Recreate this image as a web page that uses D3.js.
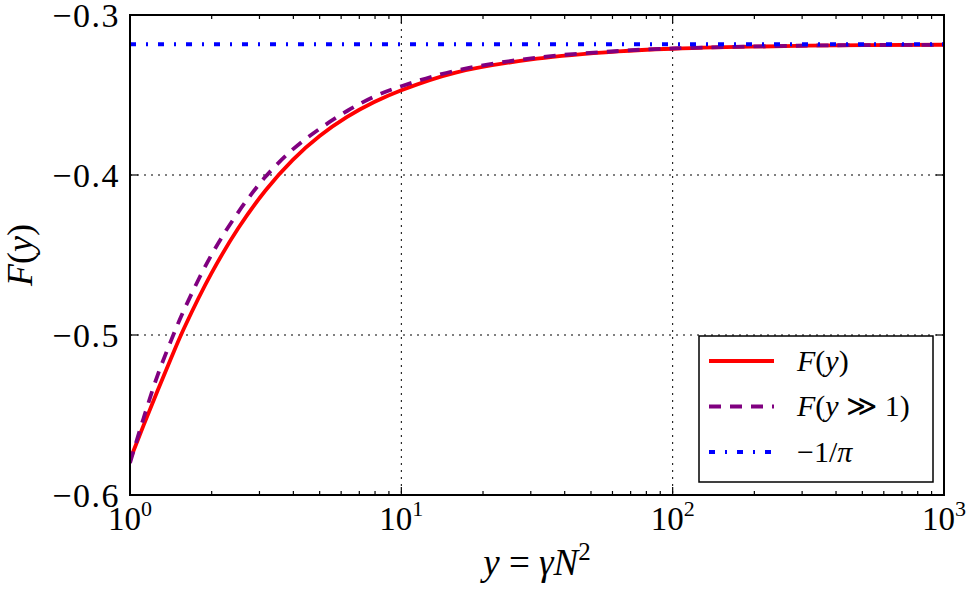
<!DOCTYPE html>
<html>
<head>
<meta charset="utf-8">
<script src="https://cdn.jsdelivr.net/npm/d3@7"></script>
<style>
  body { margin: 0; background: #fff; }
  svg { display: block; }
  text { font-family: 'Liberation Serif', 'DejaVu Serif', serif; fill: #000; }
</style>
</head>
<body>
<svg id="chart" width="967" height="590"></svg>
<script>
// x samples, y = gamma N^2
const ySamples = [1, 1.122, 1.259, 1.413, 1.585, 1.995, 2.512, 3.162, 3.981, 5.012, 6.31, 7.943, 10, 15.85, 31.62, 63.1, 100, 316.2, 1000];
// F(y)
const fExact = [-0.578, -0.5565, -0.5355, -0.515, -0.4955, -0.4615, -0.433, -0.4095, -0.3905, -0.3755, -0.3637, -0.3544, -0.347, -0.336, -0.3273, -0.3227, -0.3211, -0.3192, -0.3186];
// F(y >> 1)
const fLarge = [-0.580, -0.552, -0.526, -0.504, -0.484, -0.450, -0.423, -0.401, -0.384, -0.371, -0.360, -0.351, -0.3445, -0.3348, -0.3266, -0.3225, -0.3209, -0.3191, -0.3186];
// asymptote -1/pi
const asymX = [1, 1000];
const asymY = [-0.3183, -0.3183];

const xTicks = [1, 10, 100, 1000];
const xTickExp = ['0', '1', '2', '3'];
const yTicks = [-0.6, -0.5, -0.4, -0.3];
const yTickLabels = ['\u22120.6', '\u22120.5', '\u22120.4', '\u22120.3'];

const margin = { left: 130, top: 15, right: 23, bottom: 95 };
const W = 967, H = 590;
const x0 = margin.left, x1 = W - margin.right;
const y0 = margin.top, y1 = H - margin.bottom;

const svg = d3.select('#chart');

const x = d3.scaleLog().domain([1, 1000]).range([x0, x1]);
const y = d3.scaleLinear().domain([-0.6, -0.3]).range([y1, y0]);

// clip
svg.append('clipPath').attr('id', 'plot-clip')
  .append('rect').attr('x', x0).attr('y', y0).attr('width', x1 - x0).attr('height', y1 - y0);

// grid (major only, interior)
const grid = svg.append('g').attr('stroke', '#000').attr('stroke-width', 1).attr('stroke-dasharray', '2,5');
grid.selectAll('line.gx').data(xTicks.slice(1, -1)).join('line')
  .attr('x1', d => x(d)).attr('x2', d => x(d)).attr('y1', y0).attr('y2', y1);
grid.selectAll('line.gy').data(yTicks.slice(1, -1)).join('line')
  .attr('x1', x0).attr('x2', x1).attr('y1', d => y(d)).attr('y2', d => y(d));

// curves
const line = d3.line().x(d => x(d[0])).y(d => y(d[1])).curve(d3.curveCatmullRom.alpha(0.5));
const plot = svg.append('g').attr('clip-path', 'url(#plot-clip)').attr('fill', 'none');

const series = [
  { name: 'exact', xs: ySamples, ys: fExact, color: '#ff0000', width: 3.8, dash: null },
  { name: 'large', xs: ySamples, ys: fLarge, color: '#800080', width: 3.8, dash: '12,9' },
  { name: 'asym', xs: asymX, ys: asymY, color: '#0000ff', width: 4, dash: '6,10,2,10' }
];

series.forEach(s => {
  plot.append('path')
    .datum(s.xs.map((v, i) => [v, s.ys[i]]))
    .attr('d', line)
    .attr('stroke', s.color)
    .attr('stroke-width', s.width)
    .attr('stroke-dasharray', s.dash);
});

// ticks
const ticks = svg.append('g').attr('stroke', '#000').attr('stroke-width', 1.2);
const minor = [];
for (let e = 0; e < 3; e++) for (let m = 2; m < 10; m++) minor.push(m * Math.pow(10, e));
xTicks.forEach(t => {
  ticks.append('line').attr('x1', x(t)).attr('x2', x(t)).attr('y1', y1).attr('y2', y1 - 8);
  ticks.append('line').attr('x1', x(t)).attr('x2', x(t)).attr('y1', y0).attr('y2', y0 + 8);
});
minor.forEach(t => {
  ticks.append('line').attr('x1', x(t)).attr('x2', x(t)).attr('y1', y1).attr('y2', y1 - 4);
  ticks.append('line').attr('x1', x(t)).attr('x2', x(t)).attr('y1', y0).attr('y2', y0 + 4);
});
yTicks.forEach(t => {
  ticks.append('line').attr('x1', x0).attr('x2', x0 + 8).attr('y1', y(t)).attr('y2', y(t));
  ticks.append('line').attr('x1', x1).attr('x2', x1 - 8).attr('y1', y(t)).attr('y2', y(t));
});

// frame
svg.append('rect').attr('x', x0).attr('y', y0).attr('width', x1 - x0).attr('height', y1 - y0)
  .attr('fill', 'none').attr('stroke', '#000').attr('stroke-width', 2);

// tick labels
svg.append('g').selectAll('text').data(yTicks).join('text')
  .attr('x', x0 - 10).attr('y', d => y(d))
  .attr('dy', '0.34em')
  .attr('text-anchor', 'end')
  .attr('font-size', 34)
  .attr('letter-spacing', 1.5)
  .text((d, i) => yTickLabels[i]);

const xl = svg.append('g').selectAll('text').data(xTicks).join('text')
  .attr('x', d => x(d)).attr('y', y1 + 35)
  .attr('text-anchor', 'middle')
  .attr('font-size', 33);
xl.append('tspan').text('10');
xl.append('tspan').attr('dy', -14).attr('font-size', 22).text((d, i) => xTickExp[i]);

// axis labels
const xlab = svg.append('text')
  .attr('x', (x0 + x1) / 2).attr('y', 575)
  .attr('text-anchor', 'middle').attr('font-size', 37);
xlab.append('tspan').attr('font-style', 'italic').text('y');
xlab.append('tspan').text(' = ');
xlab.append('tspan').attr('font-style', 'italic').text('\u03b3N');
xlab.append('tspan').attr('dy', -15).attr('font-size', 25).text('2');

const ylab = svg.append('text')
  .attr('transform', `translate(32,${(y0 + y1) / 2}) rotate(-90)`)
  .attr('text-anchor', 'middle').attr('font-size', 36);
ylab.append('tspan').attr('font-style', 'italic').text('F');
ylab.append('tspan').text('(');
ylab.append('tspan').attr('font-style', 'italic').text('y');
ylab.append('tspan').text(')');

// legend
const legend = svg.append('g');
legend.append('rect').attr('x', 699).attr('y', 336).attr('width', 234).attr('height', 146)
  .attr('fill', '#fff').attr('stroke', '#000').attr('stroke-width', 1.5);

const legendRows = [
  [['F', true], ['(', false], ['y', true], [')', false]],
  [['F', true], ['(', false], ['y', true], [' \u226b 1)', false]],
  [['\u22121/', false], ['\u03c0', true]]
];
series.forEach((s, i) => {
  const ry = 361 + i * 45.5;
  legend.append('line').attr('x1', 709).attr('x2', 774).attr('y1', ry).attr('y2', ry)
    .attr('stroke', s.color).attr('stroke-width', s.width).attr('stroke-dasharray', s.dash);
  const t = legend.append('text').attr('x', 797).attr('y', ry).attr('dy', '0.33em').attr('font-size', 30);
  legendRows[i].forEach(([str, it]) => {
    t.append('tspan').attr('font-style', it ? 'italic' : null).text(str);
  });
});
</script>
</body>
</html>
